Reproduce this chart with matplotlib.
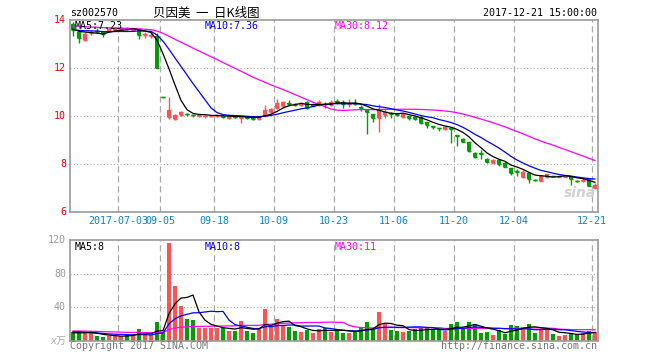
import numpy as np
import pandas as pd
import matplotlib
matplotlib.use('Agg')
import matplotlib.pyplot as plt
import matplotlib.transforms as mtransforms

# ---------------- data ----------------
dates = list(pd.bdate_range('2017-06-21', '2017-07-11').strftime('%Y-%m-%d')) + \
        list(pd.bdate_range('2017-09-05', '2017-09-29').strftime('%Y-%m-%d')) + \
        list(pd.bdate_range('2017-10-09', '2017-12-21').strftime('%Y-%m-%d'))

open_ = [13.85, 13.52, 13.18, 13.45, 13.56, 13.48, 13.56, 13.60, 13.62, 13.66,
         13.60, 13.60, 13.36, 13.34, 13.33, 10.81, 9.94, 9.86, 10.04, 10.09,
         10.06, 10.00, 9.98, 9.99, 10.00, 10.00, 9.90, 9.97, 9.90, 9.95,
         9.93, 9.88, 10.00, 10.18, 10.32, 10.42, 10.54, 10.48, 10.44, 10.58,
         10.42, 10.45, 10.50, 10.47, 10.62, 10.60, 10.52, 10.55, 10.37, 10.25,
         10.08, 9.93, 10.04, 10.12, 10.10, 9.97, 10.00, 9.97, 9.97, 9.74,
         9.58, 9.50, 9.46, 9.51, 9.20, 9.06, 8.90, 8.47, 8.44, 8.22,
         8.06, 8.17, 8.06, 7.82, 7.69, 7.47, 7.64, 7.34, 7.31, 7.44,
         7.51, 7.47, 7.46, 7.47, 7.30, 7.28, 7.36, 7.02]
high = [13.90, 13.55, 13.48, 13.58, 13.65, 13.52, 13.66, 13.70, 13.70, 13.70,
        13.68, 13.62, 13.50, 13.45, 13.44, 10.81, 10.81, 10.10, 10.22, 10.14,
        10.10, 10.07, 10.05, 10.04, 10.08, 10.03, 9.99, 10.00, 10.03, 9.98,
        9.95, 10.02, 10.45, 10.35, 10.72, 10.62, 10.67, 10.55, 10.60, 10.62,
        10.55, 10.65, 10.60, 10.65, 10.70, 10.67, 10.70, 10.70, 10.47, 10.28,
        10.10, 10.49, 10.32, 10.15, 10.14, 10.10, 10.02, 10.00, 9.99, 9.76,
        9.60, 9.52, 9.58, 9.55, 9.22, 9.08, 8.93, 8.50, 8.60, 8.24,
        8.20, 8.19, 8.08, 7.84, 7.78, 7.75, 7.66, 7.36, 7.54, 7.58,
        7.52, 7.52, 7.52, 7.49, 7.35, 7.40, 7.38, 7.20]
low = [13.35, 13.03, 13.14, 13.38, 13.45, 13.31, 13.52, 13.56, 13.58, 13.58,
       13.56, 13.20, 13.27, 13.25, 12.00, 10.81, 9.88, 9.82, 10.00, 10.00,
       9.96, 9.97, 9.93, 9.95, 9.97, 9.92, 9.87, 9.91, 9.70, 9.88,
       9.84, 9.84, 9.98, 10.14, 10.30, 10.38, 10.42, 10.40, 10.40, 10.30,
       10.38, 10.40, 10.35, 10.42, 10.50, 10.34, 10.36, 10.45, 10.20, 9.24,
       9.74, 9.32, 9.93, 9.90, 9.98, 9.93, 9.84, 9.84, 9.65, 9.49,
       9.45, 9.38, 9.42, 8.86, 8.76, 8.90, 8.49, 8.24, 8.22, 8.06,
       8.04, 7.92, 7.86, 7.54, 7.50, 7.42, 7.20, 7.30, 7.28, 7.40,
       7.48, 7.45, 7.44, 7.12, 7.25, 7.26, 7.08, 6.98]
close = [13.57, 13.24, 13.42, 13.50, 13.52, 13.40, 13.62, 13.66, 13.66, 13.62,
         13.64, 13.38, 13.40, 13.37, 12.01, 10.81, 10.25, 10.04, 10.15, 10.07,
         10.03, 10.03, 10.00, 10.01, 10.04, 9.96, 9.96, 9.94, 9.99, 9.92,
         9.88, 10.00, 10.25, 10.30, 10.53, 10.57, 10.52, 10.45, 10.56, 10.32,
         10.50, 10.58, 10.48, 10.58, 10.60, 10.49, 10.53, 10.52, 10.35, 10.15,
         9.93, 10.25, 10.15, 10.08, 10.05, 10.07, 9.93, 9.88, 9.69, 9.63,
         9.56, 9.48, 9.56, 9.44, 9.17, 8.93, 8.56, 8.31, 8.42, 8.08,
         8.17, 8.00, 7.89, 7.64, 7.67, 7.68, 7.38, 7.32, 7.50, 7.57,
         7.50, 7.48, 7.50, 7.36, 7.28, 7.33, 7.10, 7.12]
volume = [11.2, 10.4, 9.2, 9.2, 6.0, 4.8, 6.0, 6.0, 6.0, 7.0,
          8.0, 14.4, 7.0, 7.0, 22.0, 11.0, 116.0, 65.0, 41.0, 26.0,
          25.0, 16.0, 16.0, 16.0, 16.0, 15.0, 12.0, 12.0, 24.0, 12.0,
          10.0, 14.0, 38.0, 18.0, 26.0, 19.0, 17.0, 12.0, 11.0, 13.0,
          10.0, 14.0, 15.0, 11.0, 14.4, 10.0, 10.0, 11.0, 15.0, 22.0,
          14.0, 35.0, 20.0, 13.0, 12.0, 11.0, 12.0, 14.0, 15.0, 15.0,
          13.0, 14.0, 12.0, 20.0, 22.0, 14.0, 22.0, 20.0, 10.0, 11.0,
          7.0, 13.0, 8.0, 19.0, 18.0, 17.0, 20.0, 10.0, 14.0, 14.0,
          8.0, 6.0, 7.0, 10.0, 8.0, 10.0, 12.0, 11.0]

# closes / volumes before the visible window (estimated from the MA lines)
hist_close = [13.95, 13.90, 13.86, 13.92, 13.88, 13.80, 13.84, 13.90, 13.86, 13.78,
              13.82, 13.88, 13.85, 13.80, 13.76, 13.82, 13.86, 13.80, 13.74, 13.70,
              13.62, 13.58, 13.55, 13.60, 13.64, 13.66, 13.58, 13.62, 13.64]
hist_volume = [14, 12, 15, 11, 13, 12, 10, 14, 13, 12, 11, 15, 12, 13, 14,
               11, 12, 10, 13, 12, 11, 14, 12, 10, 13, 11, 9, 8, 10]

tick_dates = ['2017-07-03', '2017-09-05', '2017-09-18', '2017-10-09', '2017-10-23',
              '2017-11-06', '2017-11-20', '2017-12-04', '2017-12-21']
tick_labels = ['2017-07-03', '09-05', '09-18', '10-09', '10-23',
               '11-06', '11-20', '12-04', '12-21']
price_ticks = [14, 12, 10, 8, 6]
vol_ticks = [120, 80, 40]

# ---------------- derived ----------------
n = len(close)
x = np.arange(n)
o = np.array(open_); c = np.array(close); h = np.array(high); l = np.array(low)
v = np.array(volume)
RED = '#ff5252'
GREEN = '#009f00'
cols = []
prev = hist_close[-1]
for i in range(n):
    if c[i] > o[i] or (c[i] == o[i] and c[i] >= prev):
        cols.append(RED)
    else:
        cols.append(GREEN)
    prev = c[i]

sc = pd.Series(hist_close + close)
ma5 = sc.rolling(5).mean().values[len(hist_close):]
ma10 = sc.rolling(10).mean().values[len(hist_close):]
ma30 = sc.rolling(30).mean().values[len(hist_close):]
sv = pd.Series(hist_volume + volume, dtype=float)
vma5 = sv.rolling(5).mean().values[len(hist_volume):]
vma10 = sv.rolling(10).mean().values[len(hist_volume):]
vma30 = sv.rolling(30).mean().values[len(hist_volume):]

tick_pos = [dates.index(d) - 0.5 for d in tick_dates]

# ---------------- figure ----------------
W, H = 660, 360
fig = plt.figure(figsize=(W / 100, H / 100), dpi=100)
fig.patch.set_facecolor('white')
mono = 'DejaVu Sans Mono'
FS = 7.2


def fxy(px, py):
    return px / W, 1 - py / H


ax = fig.add_axes([70 / W, 1 - 212 / H, 528 / W, 192 / H])
axv = fig.add_axes([70 / W, 1 - 341 / H, 528 / W, 101 / H])

GRID = '#aaaaaa'
for a in (ax, axv):
    a.set_xlim(-0.5, n - 0.5)
    a.set_xticks([]); a.set_yticks([])
    for s in a.spines.values():
        s.set_color('#999999'); s.set_linewidth(1.2)
    for p in tick_pos:
        a.axvline(p, color=GRID, lw=0.9, ls=(0, (5, 3)), zorder=0)

ax.set_ylim(6, 14)
axv.set_ylim(0, 120)
for yv in [8, 10, 12]:
    ax.axhline(yv, color=GRID, lw=0.8, ls=(0, (1, 2)), zorder=0)
for yv in [40, 80]:
    axv.axhline(yv, color=GRID, lw=0.8, ls=(0, (1, 2)), zorder=0)

# candles
ax.vlines(x, l, h, colors=cols, lw=1, zorder=2)
bot = np.minimum(o, c); top = np.maximum(o, c)
ax.bar(x, top - bot, bottom=bot, width=0.8, color=cols, lw=0, zorder=3)
ax.hlines(o, x - 0.4, x + 0.4, colors=cols, lw=1, zorder=3)
ax.hlines(c, x - 0.4, x + 0.4, colors=cols, lw=1, zorder=3)

ax.plot(x, ma30, color='#ff00ff', lw=0.9, zorder=4)
ax.plot(x, ma10, color='#0000ff', lw=0.9, zorder=5)
ax.plot(x, ma5, color='#000000', lw=0.9, zorder=6)

# volume
axv.bar(x, v, width=0.82, color=cols, lw=0, zorder=2)
axv.plot(x, vma30, color='#ff00ff', lw=0.9, zorder=4)
axv.plot(x, vma10, color='#0000ff', lw=0.9, zorder=5)
axv.plot(x, vma5, color='#000000', lw=0.9, zorder=6)

# watermark
ax.text(0.965, 0.1, 'sina', transform=ax.transAxes, ha='center', va='center',
        fontsize=10, fontstyle='italic', fontweight='bold', color='#d0d0d0',
        family='DejaVu Sans', zorder=1)

# texts
fig.text(*fxy(70, 13), 'sz002570', family=mono, fontsize=FS, va='center', ha='left')
fig.text(*fxy(206, 13), '贝因美  一  日K线图', family=['Noto Sans CJK SC', 'DejaVu Sans'],
         fontsize=9, va='center', ha='center')
fig.text(*fxy(597, 13), '2017-12-21 15:00:00', family=mono, fontsize=FS, va='center', ha='right')

fig.text(*fxy(75, 26), 'MA5:7.23', family=mono, fontsize=FS, va='center', ha='left', color='black', zorder=10)
fig.text(*fxy(205, 26), 'MA10:7.36', family=mono, fontsize=FS, va='center', ha='left', color='#0000ff')
fig.text(*fxy(335, 26), 'MA30:8.12', family=mono, fontsize=FS, va='center', ha='left', color='#ff00ff')

fig.text(*fxy(75, 247), 'MA5:8', family=mono, fontsize=FS, va='center', ha='left', color='black')
fig.text(*fxy(205, 247), 'MA10:8', family=mono, fontsize=FS, va='center', ha='left', color='#0000ff')
fig.text(*fxy(335, 247), 'MA30:11', family=mono, fontsize=FS, va='center', ha='left', color='#ff00ff')

ty = mtransforms.blended_transform_factory(fig.transFigure, ax.transData)
for t in price_ticks:
    fig.text(66 / W, t, str(t), transform=ty, family=mono, fontsize=FS,
             color='#ee0000', ha='right', va='center')
tyv = mtransforms.blended_transform_factory(fig.transFigure, axv.transData)
for t in vol_ticks:
    fig.text(66 / W, t, str(t), transform=tyv, family=mono, fontsize=FS,
             color='#999999', ha='right', va='center')
fig.text(*fxy(66, 341), 'x万', family=['DejaVu Sans Mono', 'Noto Sans CJK SC'], fontsize=FS,
         color='#aaaaaa', ha='right', va='center', fontstyle='italic')

tx = mtransforms.blended_transform_factory(ax.transData, fig.transFigure)
for p, lab in zip(tick_pos, tick_labels):
    fig.text(p, 1 - 221 / H, lab, transform=tx, family=mono, fontsize=FS,
             color='#0a82d8', ha='center', va='center')

fig.text(*fxy(70, 346), 'Copyright 2017 SINA.COM', family=mono, fontsize=FS,
         color='#777777', ha='left', va='center')
fig.text(*fxy(597, 346), 'http://finance.sina.com.cn', family=mono, fontsize=FS,
         color='#777777', ha='right', va='center')

fig.savefig('out.png', dpi=100, facecolor='white')
